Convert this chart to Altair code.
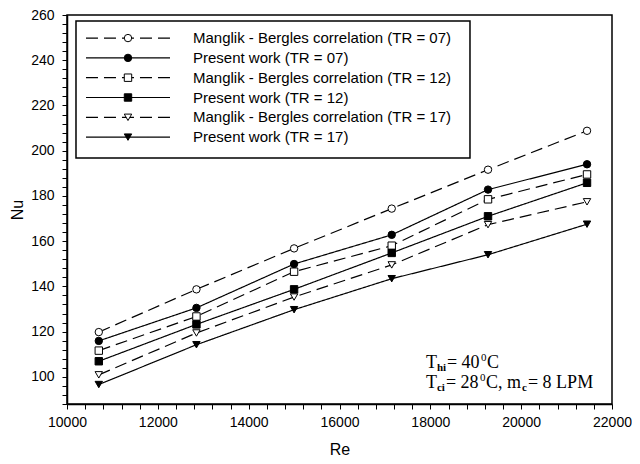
import altair as alt
import pandas as pd

# ---- data ----
re_vals = [10700, 12850, 15000, 17150, 19270, 21450]
mb07 = [119.8, 138.7, 156.8, 174.4, 191.6, 208.8]
pw07 = [115.9, 130.5, 149.9, 162.8, 182.8, 194.0]
mb12 = [111.6, 126.7, 146.5, 158.0, 178.5, 189.5]
pw12 = [106.9, 123.2, 138.7, 154.8, 171.0, 185.8]
mb17 = [100.9, 119.4, 135.3, 149.5, 167.3, 177.4]
pw17 = [96.6, 114.2, 129.7, 143.4, 154.0, 167.5]

labels = [
    "Manglik - Bergles correlation (TR = 07)",
    "Present work (TR = 07)",
    "Manglik - Bergles correlation (TR = 12)",
    "Present work (TR = 12)",
    "Manglik - Bergles correlation (TR = 17)",
    "Present work (TR = 17)",
]
series_vals = [mb07, pw07, mb12, pw12, mb17, pw17]

shapes = ["circle", "circle", "square", "square", "triangle-down", "triangle-down"]
fills = ["white", "black", "white", "black", "white", "black"]
dashes = [[12, 6], [1, 0], [12, 6], [1, 0], [12, 6], [1, 0]]

rows = []
for lab, vals in zip(labels, series_vals):
    for x, y in zip(re_vals, vals):
        rows.append({"series": lab, "Re": x, "Nu": y})
df = pd.DataFrame(rows)

xscale = alt.Scale(domain=[10000, 22000], nice=False, zero=False)
yscale = alt.Scale(domain=[88, 260], nice=False, zero=False)
dash_scale = alt.Scale(domain=labels, range=dashes)
shape_scale = alt.Scale(domain=labels, range=shapes)
fill_scale = alt.Scale(domain=labels, range=fills)

x_axis = alt.Axis(
    values=list(range(10000, 22001, 400)), tickCount=200,
    labelExpr="datum.value % 2000 === 0 ? datum.label : ''",
    format="d", grid=False, labelOverlap=False, labelFlush=False,
    tickSize=5, labelPadding=6, titlePadding=12,
    title="Re",
)
y_axis = alt.Axis(
    values=list(range(88, 261, 4)), tickCount=200,
    labelExpr="datum.value % 20 === 0 ? datum.label : ''",
    format="d", grid=False, labelOverlap=False, labelFlush=False,
    tickSize=5, labelPadding=8, titlePadding=5,
    title="Nu",
)

base = alt.Chart(df)
lines = base.mark_line(color="black", strokeWidth=1.2).encode(
    x=alt.X("Re:Q", scale=xscale, axis=x_axis),
    y=alt.Y("Nu:Q", scale=yscale, axis=y_axis),
    strokeDash=alt.StrokeDash("series:N", scale=dash_scale, legend=None),
    detail="series:N",
)
points = base.mark_point(size=55, stroke="black", strokeWidth=1, opacity=1, filled=False).encode(
    x="Re:Q",
    y="Nu:Q",
    shape=alt.Shape("series:N", scale=shape_scale, legend=None),
    fill=alt.Fill("series:N", scale=fill_scale, legend=None),
)

# ---- manual legend (layout values) ----
leg_rows = []
for i, lab in enumerate(labels):
    leg_rows.append({"series": lab, "ly": 249.8 - i * 8.76,
                     "x1": 10418, "x2": 12268, "xm": 11343, "xt": 12774})
leg = pd.DataFrame(leg_rows)
box = alt.Chart(pd.DataFrame([{"a": 10198, "b": 18873, "c": 196.8, "d": 257.3}])).mark_rect(
    fill="white", stroke="black", strokeWidth=1.5
).encode(x="a:Q", x2="b:Q", y="c:Q", y2="d:Q")
leg_lines = alt.Chart(leg).mark_rule(color="black", strokeWidth=1.2).encode(
    x="x1:Q", x2="x2:Q", y="ly:Q",
    strokeDash=alt.StrokeDash("series:N", scale=dash_scale, legend=None),
)
leg_pts = alt.Chart(leg).mark_point(size=55, stroke="black", strokeWidth=1, opacity=1, filled=False).encode(
    x="xm:Q", y="ly:Q",
    shape=alt.Shape("series:N", scale=shape_scale, legend=None),
    fill=alt.Fill("series:N", scale=fill_scale, legend=None),
)
leg_txt = alt.Chart(leg).mark_text(
    align="left", baseline="middle", font="Liberation Sans", fontSize=15, color="black"
).encode(x="xt:Q", y="ly:Q", text="series:N")

# ---- annotation pieces ----
ann = [
    # text, y, dx, dy, size, weight
    ("T", 103.9, 0, 0, 18, "normal"),
    ("hi", 103.9, 11, 3, 11, "bold"),
    (" = 40", 103.9, 21, 0, 18, "normal"),
    ("0", 103.9, 55, -7, 11, "normal"),
    ("C", 103.9, 61, 0, 18, "normal"),
    ("T", 95.1, 0, 0, 18, "normal"),
    ("ci", 95.1, 11, 3, 11, "bold"),
    (" = 28", 95.1, 20, 0, 18, "normal"),
    ("0", 95.1, 54, -7, 11, "normal"),
    ("C, m", 95.1, 60, 0, 18, "normal"),
    ("c", 95.1, 96, 3, 11, "bold"),
    (" = 8 LPM", 95.1, 102, 0, 18, "normal"),
]
ann_layers = []
for t, yv, dx, dy, fs, fw in ann:
    ann_layers.append(
        alt.Chart(pd.DataFrame([{"x": 17904, "y": yv, "t": t}])).mark_text(
            align="left", baseline="alphabetic", font="Liberation Serif",
            fontSize=fs, fontWeight=fw, dx=dx, dy=dy, color="black"
        ).encode(x="x:Q", y="y:Q", text="t:N")
    )

chart = alt.layer(lines, points, box, leg_lines, leg_pts, leg_txt, *ann_layers).properties(
    width=545, height=389,
    autosize=alt.AutoSizeParams(type="none"),
    padding={"left": 59, "top": 7, "right": 20, "bottom": 56},
    background="white",
).configure_view(stroke="black", strokeWidth=1.5).configure_axis(
    labelFont="Liberation Sans", labelFontSize=14, labelColor="black",
    titleFont="Liberation Sans", titleFontSize=16, titleFontWeight="normal", titleColor="black",
    domainColor="black", domainWidth=1.5, tickColor="black", tickWidth=1,
)

chart.save("out.html", embed_options={"renderer": "svg", "actions": False})
